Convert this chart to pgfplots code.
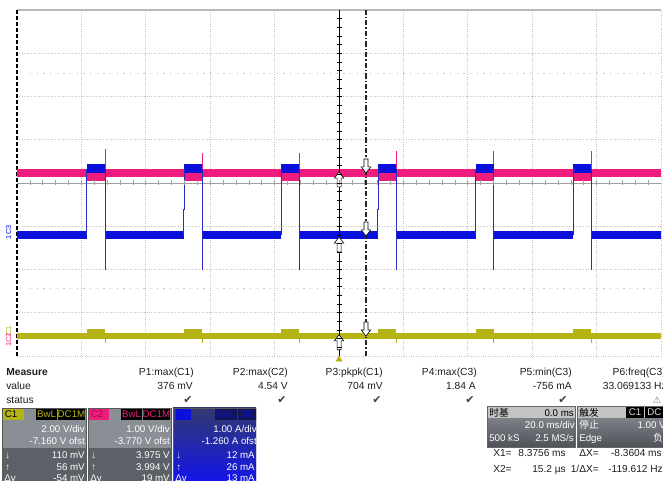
\documentclass[border=0pt]{standalone}
\usepackage{pgfplots}
\pgfplotsset{compat=1.18}
\usepackage{fontspec}
\setmainfont{Liberation Sans}
\newfontfamily\cjk{Noto Sans CJK SC}
\newfontfamily\dejavu{DejaVu Sans}
\definecolor{cmag}{HTML}{EE1C7C}
\definecolor{cblue}{HTML}{0A10DC}
\definecolor{cedge}{HTML}{2A2AC0}
\definecolor{cyel}{HTML}{B6B314}
\definecolor{gridc}{HTML}{C4C4C4}
\definecolor{boxup}{HTML}{8A8E95}
\definecolor{boxlo}{HTML}{5C6067}
\definecolor{txt}{HTML}{1E1E1E}
\definecolor{hdr}{HTML}{C4C4C4}
\definecolor{cthree}{HTML}{323A70}
\definecolor{cthreeb}{HTML}{1212F0}
\definecolor{cnavy}{HTML}{14145A}
\definecolor{tbtop}{HTML}{7C8086}
\definecolor{tbbot}{HTML}{4E5258}
\pgfdeclareplotmark{uparr}{%
 \pgfpathmoveto{\pgfpoint{0pt}{0pt}}%
 \pgfpathlineto{\pgfpoint{3.6pt}{-4.6pt}}%
 \pgfpathlineto{\pgfpoint{1.5pt}{-4.6pt}}%
 \pgfpathlineto{\pgfpoint{1.5pt}{-11.2pt}}%
 \pgfpathlineto{\pgfpoint{-1.5pt}{-11.2pt}}%
 \pgfpathlineto{\pgfpoint{-1.5pt}{-4.6pt}}%
 \pgfpathlineto{\pgfpoint{-3.6pt}{-4.6pt}}%
 \pgfpathclose\pgfusepathqfillstroke}
\pgfdeclareplotmark{dnarr}{%
 \pgfpathmoveto{\pgfpoint{0pt}{0pt}}%
 \pgfpathlineto{\pgfpoint{3.6pt}{4.6pt}}%
 \pgfpathlineto{\pgfpoint{1.5pt}{4.6pt}}%
 \pgfpathlineto{\pgfpoint{1.5pt}{10.5pt}}%
 \pgfpathlineto{\pgfpoint{-1.5pt}{10.5pt}}%
 \pgfpathlineto{\pgfpoint{-1.5pt}{4.6pt}}%
 \pgfpathlineto{\pgfpoint{-3.6pt}{4.6pt}}%
 \pgfpathclose\pgfusepathqfillstroke}
\begin{document}
\begin{tikzpicture}[font=\fontsize{7.7}{9}\selectfont]
\useasboundingbox (0,0) rectangle (497.25pt,360.75pt);
\clip (0,0) rectangle (497.25pt,360.75pt);
\fill[white] (0,0) rectangle (497.25pt,360.75pt);
\begin{axis}[at={(12.75pt,93.75pt)},anchor=south west,scale only axis,
 width=483pt,height=259.5pt,xmin=-100,xmax=100,ymin=-4,ymax=4,
 xtick={-80,-60,...,80}, ytick={-3,-2,...,3}, xticklabels={},yticklabels={},
 major tick length=0pt, grid=major,
 major grid style={gridc, dash pattern=on 0.6pt off 1.2pt, line width=0.6pt},
 axis line style={draw=none}, clip=false, unbounded coords=jump]
% frame
\draw[gray!55, line width=1.3pt] (axis cs:-100,4) -- (axis cs:100,4);
\draw[gridc, dash pattern=on 0.6pt off 1.2pt, line width=0.6pt] (axis cs:100,4) -- (axis cs:100,-4) -- (axis cs:-100,-4);
\draw[black, dash pattern=on 3pt off 1.5pt, line width=0.9pt] (axis cs:-100,-4) -- (axis cs:-100,4);
\draw[gridc, dash pattern=on 1pt off 4pt, line width=0.7pt] (axis cs:-96,2.54) -- (axis cs:100,2.54);
\draw[gridc, dash pattern=on 1pt off 4pt, line width=0.7pt] (axis cs:-96,-2.43) -- (axis cs:100,-2.43);
\draw[gray!75, line width=0.7pt] (axis cs:-100,0) -- (axis cs:100,0);
% C2 magenta
\addplot[cmag, line width=6.6pt] coordinates {(-100,0.231) (100,0.231)};
\addplot[cmag, line width=6pt] coordinates {(-78.35,0.15) (-72.7,0.15) (-72.7,nan) (-48.1,0.15) (-42.5,0.15) (-42.5,nan) (-18.0,0.15) (-12.3,0.15) (-12.3,nan) (12.2,0.15) (17.7,0.15) (17.7,nan) (42.5,0.15) (48.0,0.15) (48.0,nan) (72.7,0.15) (78.3,0.15)};
\addplot[cmag, line width=0.8pt] coordinates {(-72.6,0.2) (-72.6,0.79) (-72.6,nan) (-42.4,0.2) (-42.4,0.69) (-42.4,nan) (-12.2,0.2) (-12.2,0.69) (-12.2,nan) (17.8,0.2) (17.8,0.74) (17.8,nan) (48.1,0.2) (48.1,0.74) (48.1,nan) (78.4,0.2) (78.4,0.74)};
% C3 blue
\addplot[cblue, line width=5.6pt] coordinates {(-100,-1.2) (-78.35,-1.2) (-78.35,nan) (-72.6,-1.2) (-48.1,-1.2) (-48.1,nan) (-42.4,-1.2) (-18.0,-1.2) (-18.0,nan) (-12.2,-1.2) (12.2,-1.2) (12.2,nan) (17.8,-1.2) (42.5,-1.2) (42.5,nan) (48.1,-1.2) (72.7,-1.2) (72.7,nan) (78.4,-1.2) (100,-1.2)};
\addplot[cblue, line width=6.4pt] coordinates {(-78.35,0.335) (-72.7,0.335) (-72.7,nan) (-48.1,0.335) (-42.5,0.335) (-42.5,nan) (-18.0,0.335) (-12.3,0.335) (-12.3,nan) (12.2,0.335) (17.7,0.335) (17.7,nan) (42.5,0.335) (48.0,0.335) (48.0,nan) (72.7,0.335) (78.3,0.335)};
\addplot[cedge, line width=0.8pt] coordinates {
(-78.35,-1.2) (-78.35,0.335) (-78.35,nan) (-72.6,0.335) (-72.6,-2.01) (-72.6,nan)
(-48.3,-1.2) (-48.3,-0.62) (-48.1,-0.62) (-48.1,0.335) (-48.1,nan) (-42.4,0.335) (-42.4,-2.01) (-42.4,nan)
(-18.0,-1.2) (-18.0,0.335) (-18.0,nan) (-12.2,0.335) (-12.2,-2.01) (-12.2,nan)
(11.9,-1.2) (11.9,-0.62) (12.2,-0.62) (12.2,0.335) (12.2,nan) (17.8,0.335) (17.8,-2.01) (17.8,nan)
(42.5,-1.2) (42.5,0.335) (42.5,nan) (48.1,0.335) (48.1,-2.01) (48.1,nan)
(72.7,-1.2) (72.7,0.335) (72.7,nan) (78.4,0.335) (78.4,-2.01)};
% C1 yellow
\addplot[cyel, line width=4.4pt] coordinates {(-100,-3.54) (100,-3.54)};
\addplot[cyel, line width=5.2pt] coordinates {(-78.35,-3.46) (-72.7,-3.46) (-72.7,nan) (-48.1,-3.46) (-42.5,-3.46) (-42.5,nan) (-18.0,-3.46) (-12.3,-3.46) (-12.3,nan) (12.2,-3.46) (17.7,-3.46) (17.7,nan) (42.5,-3.46) (48.0,-3.46) (48.0,nan) (72.7,-3.46) (78.3,-3.46)};
\addplot[cyel, line width=0.8pt] coordinates {(-72.6,-3.5) (-72.6,-3.70) (-72.6,nan) (-42.4,-3.5) (-42.4,-3.70) (-42.4,nan) (-12.2,-3.5) (-12.2,-3.70) (-12.2,nan) (17.8,-3.5) (17.8,-3.70) (17.8,nan) (48.1,-3.5) (48.1,-3.70) (48.1,nan) (78.4,-3.5) (78.4,-3.70)};
% cursors
\addplot[black, line width=0.8pt] coordinates {(0.0152,-4) (0.0152,4)};
\addplot[black!85, line width=0.8pt, dash pattern=on 4pt off 1.6pt on 0.8pt off 1.6pt] coordinates {(8.3756,-4) (8.3756,4)};
\addplot[only marks, mark=uparr, mark options={fill=white, draw=black, line width=0.45pt}] coordinates {(0.0152,0.254) (0.0152,-1.25) (0.0152,-3.51)};
\addplot[only marks, mark=dnarr, mark options={fill=white, draw=black, line width=0.45pt}] coordinates {(8.3756,0.231) (8.3756,-1.225) (8.3756,-3.54)};
\addplot[only marks, mark=triangle*, mark size=2.6pt, mark options={fill=cyel, draw=cyel}] coordinates {(0.0152,-4.08)};
\end{axis}
\begin{scope}[x=0.75pt,y=0.75pt]
% minor ticks on centre lines
\foreach \i in {1,...,49} \draw[gray!75, line width=0.5pt] ({17+\i*12.88},{298-2.5}) -- ++(0,5);
\foreach \j in {1,...,39} \draw[black, line width=0.5pt] ({339.2-2.5},{125+\j*8.65}) -- ++(5,0);
% channel markers
\node[cblue, rotate=90, font=\fontsize{5.5}{6}\selectfont, inner sep=0pt] at (8.5,251) {C3};
\node[cblue, rotate=90, font=\fontsize{5.5}{6}\selectfont, inner sep=0pt] at (8.5,243.5) {1};
\node[cyel, rotate=90, font=\fontsize{5.5}{6}\selectfont, inner sep=0pt] at (8.5,150) {C1};
\node[cmag, rotate=90, font=\fontsize{5.5}{6}\selectfont, inner sep=0pt] at (8.5,143) {C2};
\node[cmag, rotate=90, font=\fontsize{5.5}{6}\selectfont, inner sep=0pt] at (8.5,137) {1};
% measure table
\begin{scope}[every node/.style={txt, inner sep=0pt}]
\node[anchor=base west, font=\fontsize{7.7}{9}\selectfont\bfseries] at (6,105) {Measure};
\node[anchor=base west] at (6,91) {value};
\node[anchor=base west] at (6,77) {status};
\node[anchor=base east] at (194,105) {P1:max(C1)};
\node[anchor=base east] at (288,105) {P2:max(C2)};
\node[anchor=base east] at (383,105) {P3:pkpk(C1)};
\node[anchor=base east] at (477,105) {P4:max(C3)};
\node[anchor=base east] at (572,105) {P5:min(C3)};
\node[anchor=base east] at (666,105) {P6:freq(C3)};
\node[anchor=base east] at (193,91) {376 mV};
\node[anchor=base east] at (288,91) {4.54 V};
\node[anchor=base east] at (383,91) {704 mV};
\node[anchor=base east] at (476,91) {1.84 A};
\node[anchor=base east] at (572,91) {-756 mA};
\node[anchor=base east] at (667,91) {33.069133 Hz};
\end{scope}
\foreach \cx in {188,282,377,470,563} \node[black!75, font=\dejavu\fontsize{8.2}{9}\selectfont, inner sep=0pt] at (\cx,80.5) {✔};
\node[black!50, font=\dejavu\fontsize{7}{8}\selectfont, inner sep=0pt] at (657,80.5) {⚠};
% channel boxes
\begin{scope}[font=\fontsize{7.3}{8}\selectfont, every node/.style={inner sep=0pt}]
% C1
\fill[boxup] (2,73) rectangle (86,33);
\fill[boxlo] (2,33) rectangle (86,-5);
\draw[black!65, line width=0.6pt] (2,-5) -- (2,73) -- (86,73) -- (86,-5);
\fill[cyel] (3,72) rectangle (24,61);
\node[anchor=base west, black] at (4.5,63.3) {C1};
\fill[black] (36,72) rectangle (57,61); \node[anchor=base, cyel] at (46.5,63.3) {BwL};
\fill[black] (58,72) rectangle (85,61); \node[anchor=base, cyel] at (71.5,63.3) {DC1M};
\node[anchor=base east, white] at (85,48) {2.00 V/div};
\node[anchor=base east, white] at (85,36) {-7.160 V ofst};
\node[anchor=base east, white] at (85,22) {110 mV};
\node[anchor=base east, white] at (85,10) {56 mV};
\node[anchor=base east, white] at (85,-1) {-54 mV};
\node[anchor=base west, white] at (5,22) {↓};
\node[anchor=base west, white] at (5,10) {↑};
\node[anchor=base west, white] at (4,-1) {Δy};
% C2
\fill[boxup] (88,73) rectangle (171,33);
\fill[boxlo] (88,33) rectangle (171,-5);
\draw[black!65, line width=0.6pt] (88,-5) -- (88,73) -- (171,73) -- (171,-5);
\fill[cmag] (89,72) rectangle (109,61);
\node[anchor=base west, cmag!60!black] at (90.5,63.3) {C2};
\fill[black] (121,72) rectangle (142,61); \node[anchor=base, cmag] at (131.5,63.3) {BwL};
\fill[black] (143,72) rectangle (170,61); \node[anchor=base, cmag] at (156.5,63.3) {DC1M};
\node[anchor=base east, white] at (170,48) {1.00 V/div};
\node[anchor=base east, white] at (170,36) {-3.770 V ofst};
\node[anchor=base east, white] at (170,22) {3.975 V};
\node[anchor=base east, white] at (170,10) {3.994 V};
\node[anchor=base east, white] at (170,-1) {19 mV};
\node[anchor=base west, white] at (91,22) {↓};
\node[anchor=base west, white] at (91,10) {↑};
\node[anchor=base west, white] at (90,-1) {Δy};
% C3
\begin{scope}
\clip (173,73.5) rectangle (256,-6);
\shade[top color=cthree, bottom color=cthreeb] (173,73) rectangle (256,-5);
\draw[black!65, line width=0.6pt] (173,-5) -- (173,73) -- (256,73) -- (256,-5);
\fill[cblue] (176,72) rectangle (191,61);
\fill[cnavy] (215,72) rectangle (237,61); \node[anchor=base, cblue] at (226,63.3) {BwL};
\fill[cnavy] (238,72) rectangle (258,61); \node[anchor=base west, cblue] at (240,63.3) {DC};
\node[anchor=base east, white] at (257,48) {1.00 A/div};
\node[anchor=base east, white] at (257,36) {-1.260 A ofst};
\node[anchor=base east, white] at (255,22) {12 mA};
\node[anchor=base east, white] at (255,10) {26 mA};
\node[anchor=base east, white] at (255,-1) {13 mA};
\node[anchor=base west, white] at (176,22) {↓};
\node[anchor=base west, white] at (176,10) {↑};
\node[anchor=base west, white] at (175,-1) {Δy};
\end{scope}
% timebase
\fill[hdr] (487,75) rectangle (575,62);
\shade[top color=tbtop, bottom color=tbbot] (487,62) rectangle (575,34);
\draw[black!60, line width=0.5pt] (487,34) rectangle (575,75);
\node[anchor=base west, black, font=\cjk\fontsize{7.3}{8}\selectfont] at (489,64.5) {时基};
\node[anchor=base east, black] at (574,64.5) {0.0 ms};
\node[anchor=base east, white] at (575,52) {20.0 ms/div};
\node[anchor=base west, white] at (489,39) {500 kS};
\node[anchor=base east, white] at (574,39) {2.5 MS/s};
% trigger
\fill[hdr] (577,75) rectangle (664,62);
\shade[top color=tbtop, bottom color=tbbot] (577,62) rectangle (664,34);
\draw[black!60, line width=0.5pt] (577,34) rectangle (664,75);
\node[anchor=base west, black, font=\cjk\fontsize{7.3}{8}\selectfont] at (579,64.5) {触发};
\fill[black] (626,74) rectangle (644,63); \node[anchor=base, white!85!black] at (635,65) {C1};
\fill[black] (645,74) rectangle (664,63); \node[anchor=base west, white!85!black] at (647,65) {DC};
\node[anchor=base west, white, font=\cjk\fontsize{7.3}{8}\selectfont] at (579,52) {停止};
\node[anchor=base east, white] at (666,52) {1.00 V};
\node[anchor=base west, white] at (579,39) {Edge};
\node[anchor=base east, white, font=\cjk\fontsize{7.3}{8}\selectfont] at (663,39) {负};
\end{scope}
% cursor readouts
\begin{scope}[font=\fontsize{7.6}{9}\selectfont, every node/.style={txt, inner sep=0pt}]
\node[anchor=base west] at (493,24) {X1=};
\node[anchor=base east] at (566,24) {8.3756 ms};
\node[anchor=base east] at (599,24) {ΔX=};
\node[anchor=base east] at (662,24) {-8.3604 ms};
\node[anchor=base west] at (493,8) {X2=};
\node[anchor=base east] at (566,8) {15.2 µs};
\node[anchor=base east] at (599,8) {1/ΔX=};
\node[anchor=base east] at (663,8) {-119.612 Hz};
\end{scope}
\end{scope}
\end{tikzpicture}
\end{document}
